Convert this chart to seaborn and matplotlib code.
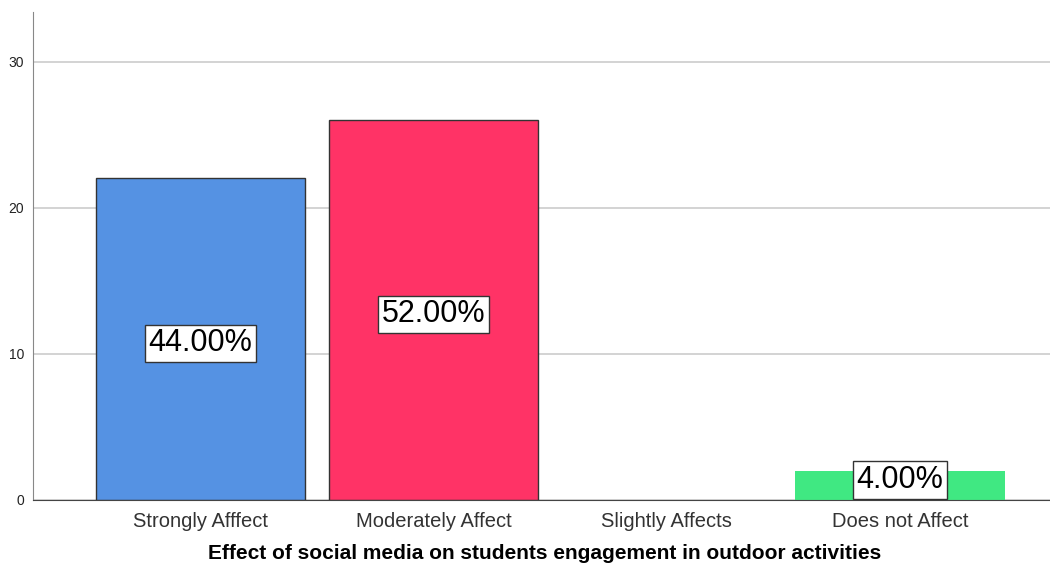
import pandas as pd
import seaborn as sns
import matplotlib.pyplot as plt

categories = ["Strongly Afffect", "Moderately Affect", "Slightly Affects", "Does not Affect"]
counts = [22, 26, 0, 2]
pct_labels = ["44.00%", "52.00%", None, "4.00%"]
colors = ["#5592E3", "#FF3366", "#A0A0A0", "#40E882"]

data = pd.DataFrame({"cat": categories, "n": counts})

sns.set_style("white")
plt.rcParams['font.family'] = ['Liberation Sans', 'DejaVu Sans']

fig = plt.figure(figsize=[10.5, 5.66], dpi=100)
ax = fig.add_axes([0.031, 0.117, 0.975, 0.862])

ax = sns.barplot(x="cat", y="n", data=data, hue="cat", palette=colors, legend=False,
                 width=0.897, saturation=1, ax=ax, zorder=2)
for i, p in enumerate(ax.patches):
    if counts[i] == 0:
        p.set_visible(False)
    elif categories[i] == "Does not Affect":
        p.set_edgecolor("none")
    else:
        p.set_edgecolor("#333333")
        p.set_linewidth(1)

# percentage boxes sit near the middle of each bar
for i, lab in enumerate(pct_labels):
    if lab is None:
        continue
    y = max(counts[i] / 2 - 0.3, 1.35)
    ax.text(i, y, lab, ha='center', va='center', fontsize=22, color='black', zorder=4,
            bbox=dict(boxstyle='square,pad=0.12', facecolor='white', edgecolor='#333333', linewidth=1))

ax.set_ylim(0, 33.4)
ax.set_xlim(-0.72, 3.67)
ax.set_yticks([0, 10, 20, 30])
ax.yaxis.grid(True, color='#CCCCCC', linewidth=1.2, zorder=0)
ax.set_axisbelow(True)
for s in ['top', 'right']:
    ax.spines[s].set_visible(False)
ax.spines['left'].set_color('#888888')
ax.spines['bottom'].set_color('#444444')
ax.tick_params(axis='y', labelsize=10, length=0, pad=6, colors='#222222')
ax.tick_params(axis='x', labelsize=14.5, length=0, pad=9, colors='#333333')
ax.set_ylabel('')
ax.set_xlabel('Effect of social media on students engagement in outdoor activities',
              fontsize=15, fontweight='bold', labelpad=9, color='black')

plt.savefig('out.png', dpi=100)
